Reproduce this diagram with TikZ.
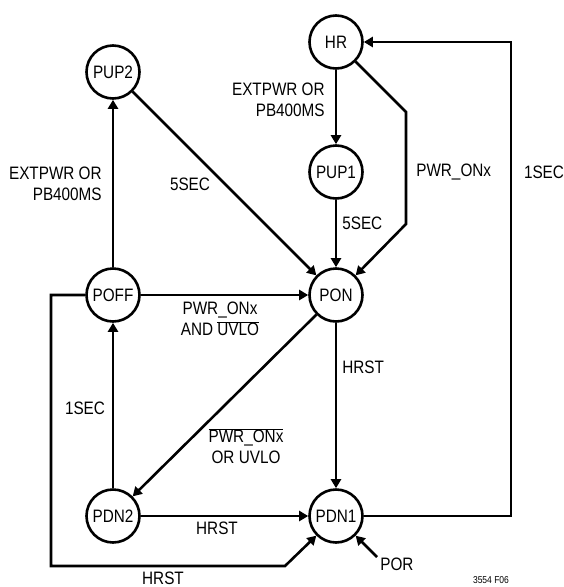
\documentclass[tikz,border=0pt]{standalone}
\usepackage{fontspec}
\setmainfont{Liberation Sans}[FakeStretch=0.85]
\usetikzlibrary{arrows.meta}
\begin{document}
\begin{tikzpicture}[x=1pt,y=-1pt,
  line width=2.6pt,
  state/.style={circle,draw,minimum size=53pt,inner sep=0pt,font=\fontsize{18}{21}\selectfont},
  lbl/.style={inner sep=0pt,font=\fontsize{18}{21}\selectfont},
  arr/.style={-{Triangle[length=9pt,width=10pt]}},
  conn/.style={line join=miter}]
\useasboundingbox (0,0) rectangle (564,587);
% states
\node[state] (HR)   at (336,42)  {HR};
\node[state] (PUP2) at (113,72)  {PUP2};
\node[state] (PUP1) at (336,172) {PUP1};
\node[state] (POFF) at (113,295) {POFF};
\node[state] (PON)  at (336,295) {PON};
\node[state] (PDN2) at (113,516) {PDN2};
\node[state] (PDN1) at (336,516) {PDN1};
% bend coordinates
\coordinate (h1) at (406,112);
\coordinate (h2) at (406,224);
\coordinate (r1) at (511,516);
\coordinate (r2) at (511,42);
\coordinate (l1) at (51,295);
\coordinate (l2) at (51,566);
\coordinate (l3) at (285,566);
\coordinate (por) at (377,557);
% connectors
\draw[arr] (POFF) -- (PUP2);
\draw[arr] (PUP2.-45) -- (PON.135);
\draw[arr] (HR) -- (PUP1);
\draw[arr] (PUP1) -- (PON);
\draw[arr,conn] (HR.-45) -- (h1) -- (h2) -- (PON.45);
\draw[arr] (POFF) -- (PON);
\draw[arr] (PON.225) -- (PDN2.45);
\draw[arr] (PON) -- (PDN1);
\draw[arr] (PDN2) -- (POFF);
\draw[arr] (PDN2) -- (PDN1);
\draw[arr,conn] (PDN1.east) -- (r1) -- (r2) -- (HR.east);
\draw[arr,conn] (POFF.west) -- (l1) -- (l2) -- (l3) -- (PDN1.225);
\draw[arr] (por) -- (PDN1.-45);
% labels
\node[lbl,align=right,anchor=east] (t1) at (103,183.5) {EXTPWR OR\\PB400MS};
\node[lbl] (t2) at (190,184) {5SEC};
\node[lbl,align=right,anchor=east] (t3) at (326,100) {EXTPWR OR\\PB400MS};
\node[lbl,anchor=west] (t4) at (415,172) {PWR\_ONx};
\node[lbl] (t5) at (544,172) {1SEC};
\node[lbl,anchor=west] (t6) at (341,223) {5SEC};
\node[lbl,align=center] (t7) at (220,319) {PWR\_ONx\\AND $\overline{\mbox{UVLO}}$};
\node[lbl] (t8) at (85,408) {1SEC};
\node[lbl,align=center] (t9) at (246,446) {$\overline{\mbox{PWR\_ONx}}$\\OR UVLO};
\node[lbl] (t10) at (217,528) {HRST};
\node[lbl] (t11) at (163,578) {HRST};
\node[lbl,anchor=west] (t12) at (341,367) {HRST};
\node[lbl,anchor=west] (t13) at (379,564) {POR};
\node[inner sep=0pt,font=\fontsize{10}{12}\selectfont] (t14) at (491,580.5) {3554 F06};
\end{tikzpicture}
\end{document}
